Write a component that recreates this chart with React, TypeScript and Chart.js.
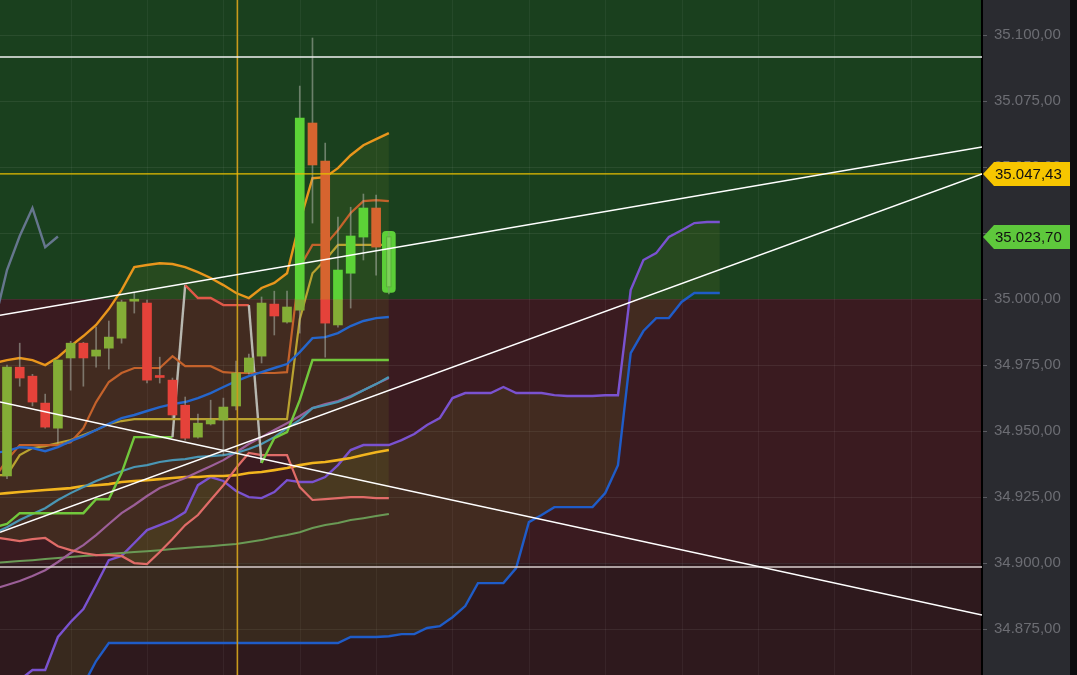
import React, { useEffect, useRef } from 'react';
import { Chart, registerables } from 'chart.js';

Chart.register(...registerables);

// ---------- axis ranges ----------
const X_RANGE = [-0.55, 76.6];
const Y_RANGE = [34857.6, 35113.3];
const Y_TICK_STEP = 25;
const GRID_X = [5, 11, 17, 23, 29, 35, 41, 47, 53, 59, 65, 71];

// ---------- zones ----------
const ZONE_LEVELS = [35000, 34900];
const ZONE_COLORS = ['#1a401e', '#3a1b20', '#2e191d'];

// ---------- candles (index 0..30) ----------
const opens = [34933.0, 34974.2, 34970.8, 34960.6, 34951.1, 34977.7, 34983.3, 34978.4, 34981.4, 34985.2, 34999.2, 34998.5, 34970.8, 34969.3, 34959.8, 34947.7, 34952.7, 34954.2, 34959.5, 34972.3, 34978.4, 34998.1, 34991.3, 34995.8, 35066.7, 35052.3, 34990.2, 35009.8, 35023.5, 35034.5, 35004.5];
const highs = [34975.0, 34983.3, 34971.5, 34964.0, 34976.9, 34984.0, 34983.6, 34989.4, 34991.7, 34999.6, 35002.3, 34999.6, 34978.0, 34970.1, 34962.9, 34956.4, 34961.7, 34962.5, 34976.5, 34979.2, 35000.8, 35003.0, 35003.0, 35080.7, 35098.9, 35059.1, 35031.1, 35034.8, 35039.8, 35039.4, 35025.5];
const lows = [34932.0, 34967.0, 34959.5, 34951.1, 34945.5, 34965.5, 34967.0, 34974.2, 34973.5, 34983.3, 34994.7, 34968.2, 34968.2, 34954.9, 34946.6, 34947.3, 34952.3, 34940.9, 34958.0, 34971.6, 34975.8, 34986.4, 34990.9, 34987.1, 35028.8, 34978.0, 34989.4, 34996.6, 35014.8, 35009.1, 35002.0];
const closes = [34974.2, 34970.1, 34961.0, 34951.5, 34976.9, 34983.3, 34977.7, 34980.7, 34985.6, 34998.9, 34999.6, 34969.3, 34970.3, 34956.1, 34947.3, 34953.0, 34954.2, 34959.1, 34972.0, 34977.7, 34998.5, 34993.6, 34997.0, 35068.6, 35050.8, 34990.9, 35011.0, 35023.9, 35034.5, 35019.7, 35023.7];

// ---------- indicator series (index -1..30) ----------
const SERIES_START = -1;
const bbUpper = [34975.8, 34976.9, 34977.7, 34976.9, 34975.0, 34978.0, 34982.2, 34986.0, 34990.2, 34996.2, 35003.4, 35012.1, 35012.9, 35013.6, 35013.3, 35012.1, 35010.2, 35008.0, 35005.3, 35002.3, 35000.4, 35004.2, 35006.1, 35009.8, 35029.2, 35045.8, 35046.2, 35049.6, 35054.5, 35058.3, 35060.6, 35062.9];
const bbMiddle = [34941.7, 34942.4, 34943.9, 34943.6, 34942.4, 34943.9, 34946.2, 34948.1, 34950.4, 34952.7, 34954.9, 34956.1, 34957.6, 34959.1, 34960.2, 34961.0, 34962.5, 34964.4, 34966.7, 34968.9, 34970.8, 34972.3, 34973.9, 34975.4, 34979.9, 34985.2, 34985.6, 34987.1, 34989.8, 34991.7, 34992.8, 34993.2];
const bbLower = [34909.8, 34909.1, 34908.3, 34909.1, 34909.5, 34906.4, 34904.9, 34903.8, 34903.0, 34903.0, 34902.7, 34900.0, 34899.6, 34904.2, 34909.1, 34914.4, 34918.2, 34923.9, 34929.5, 34936.0, 34941.7, 34940.9, 34940.9, 34940.9, 34928.8, 34923.9, 34924.2, 34924.6, 34925.0, 34925.0, 34924.6, 34924.6];
const kijun = [34932.2, 34939.0, 34944.7, 34944.7, 34944.7, 34944.7, 34945.8, 34951.1, 34961.0, 34968.6, 34972.0, 34973.9, 34973.9, 34973.9, 34978.4, 34974.6, 34974.6, 34974.6, 34972.3, 34972.0, 34972.0, 34972.0, 34972.0, 34972.3, 35012.1, 35020.5, 35020.5, 35026.1, 35032.6, 35037.1, 35037.5, 35037.1];
const tenkan = [34933.3, 34933.3, 34940.9, 34943.6, 34944.3, 34945.5, 34946.6, 34948.5, 34950.4, 34952.7, 34953.8, 34954.5, 34954.5, 34954.5, 34954.5, 34954.5, 34954.5, 34954.5, 34954.5, 34954.5, 34954.5, 34954.5, 34954.5, 34954.5, 34992.4, 35009.8, 35014.8, 35020.5, 35020.5, 35020.5, 35020.5, 35020.5];
const superTrend = [34913.6, 34914.8, 34918.9, 34918.9, 34918.9, 34918.9, 34918.9, 34918.9, 34924.2, 34924.2, 34934.1, 34947.7, 34947.7, 34947.7, 34947.7, 35005.3, 35000.4, 35000.4, 34997.7, 34997.7, 34997.7, 34937.9, 34947.3, 34949.6, 34961.7, 34976.9, 34976.9, 34976.9, 34976.9, 34976.9, 34976.9, 34976.9];
const superTrendDir = [1, 1, 1, 1, 1, 1, 1, 1, 1, 1, 1, 1, 1, 1, 1, -1, -1, -1, -1, -1, -1, 1, 1, 1, 1, 1, 1, 1, 1, 1, 1, 1];
const maCyan = [34911.4, 34913.6, 34916.3, 34918.6, 34920.8, 34923.9, 34926.5, 34928.8, 34931.1, 34933.0, 34934.8, 34936.4, 34937.1, 34938.3, 34939.0, 34939.4, 34940.2, 34940.5, 34940.9, 34941.7, 34943.2, 34945.1, 34947.7, 34951.1, 34954.2, 34958.7, 34959.8, 34961.0, 34962.9, 34965.5, 34967.8, 34970.5];
const maMauve = [34890.2, 34891.7, 34893.2, 34895.1, 34897.3, 34900.4, 34903.8, 34906.8, 34910.6, 34914.8, 34918.9, 34922.0, 34925.4, 34928.4, 34930.3, 34932.2, 34934.5, 34936.7, 34939.0, 34942.0, 34945.1, 34947.7, 34950.4, 34953.0, 34955.7, 34958.7, 34960.2, 34961.4, 34963.3, 34965.5, 34967.8, 34970.1];
const maYellow = [34926.1, 34926.5, 34926.9, 34927.3, 34927.7, 34928.0, 34928.4, 34929.2, 34929.5, 34929.9, 34930.7, 34931.1, 34931.4, 34931.8, 34932.2, 34932.6, 34932.6, 34933.0, 34933.0, 34933.3, 34934.1, 34934.5, 34935.2, 34936.0, 34937.1, 34937.9, 34938.3, 34939.0, 34939.8, 34940.9, 34942.0, 34942.8];
const maSage = [34900.0, 34900.4, 34900.8, 34901.1, 34901.5, 34901.9, 34902.3, 34902.7, 34903.0, 34903.4, 34903.8, 34904.2, 34904.5, 34904.9, 34905.3, 34905.7, 34906.1, 34906.4, 34906.8, 34907.2, 34908.0, 34908.7, 34909.8, 34910.6, 34911.7, 34913.3, 34914.4, 34915.2, 34916.3, 34917.0, 34917.8, 34918.6];

// ---------- ichimoku cloud (index -1..56) ----------
const spanA = [34840.5, 34848.1, 34855.7, 34859.5, 34859.5, 34872.0, 34877.7, 34882.6, 34891.7, 34901.1, 34902.7, 34907.6, 34912.5, 34914.4, 34916.3, 34919.3, 34929.5, 34932.6, 34931.1, 34927.3, 34925.0, 34924.6, 34926.9, 34931.4, 34930.7, 34930.7, 34932.6, 34937.1, 34942.8, 34944.7, 34944.7, 34944.7, 34946.6, 34948.9, 34952.3, 34954.9, 34962.5, 34964.4, 34964.4, 34964.4, 34966.7, 34964.4, 34964.4, 34964.4, 34963.6, 34963.3, 34963.3, 34963.3, 34963.6, 34963.6, 35003.4, 35014.8, 35017.4, 35023.5, 35026.1, 35028.8, 35029.2, 35029.2];
const spanB = [34836.7, 34840.5, 34842.4, 34844.3, 34846.2, 34848.1, 34850.0, 34853.8, 34862.9, 34869.7, 34869.7, 34869.7, 34869.7, 34869.7, 34869.7, 34869.7, 34869.7, 34869.7, 34869.7, 34869.7, 34869.7, 34869.7, 34869.7, 34869.7, 34869.7, 34869.7, 34869.7, 34869.7, 34872.0, 34872.0, 34872.0, 34872.3, 34873.1, 34873.1, 34875.4, 34876.1, 34879.5, 34883.7, 34892.4, 34892.4, 34892.4, 34898.1, 34915.5, 34918.2, 34921.2, 34921.2, 34921.2, 34921.2, 34926.5, 34937.1, 34979.5, 34987.9, 34992.8, 34992.8, 34998.9, 35002.3, 35002.3, 35002.3];
const CHIKOU_SHIFT = 26;

// ---------- drawn lines ----------
const trendA = [34993.9, 35057.6];
const trendB = [34911.7, 35047.4];
const trendC = [34961.0, 34880.3];
const hLinesWhite = [35091.7];
const hLine34900 = [34898.5];
const hLineYellow = [35047.43];
const crosshairX = [18.1];

// ---------- price tags ----------
const tagValues = [35047.43, 35023.7];
const tagLabels = ['35.047,43', '35.023,70'];
const tagColors = ['#f7c600', '#5ec83c'];

const FONT = "'Liberation Sans', Arial, sans-serif";

function fmt(v: number): string {
  const fixed = Math.abs(v).toFixed(2);
  const [intPart, dec] = fixed.split('.');
  const withDots = intPart.replace(/\B(?=(\d{3})+(?!\d))/g, '.');
  return (v < 0 ? '-' : '') + withDots + ',' + dec;
}

const pts = (arr: number[], start = SERIES_START) => arr.map((v, i) => ({ x: i + start, y: v }));

const bgPlugin = {
  id: 'bgZones',
  beforeDraw(chart: any) {
    const { ctx, chartArea: a, scales } = chart;
    const y = scales.y;
    const x = scales.x;
    ctx.save();
    ctx.fillStyle = '#2a2b30';
    ctx.fillRect(a.right, 0, chart.width - a.right, chart.height);
    ctx.fillStyle = '#0c0c0e';
    ctx.fillRect(chart.width - 7, 0, 7, chart.height);
    const y1 = y.getPixelForValue(ZONE_LEVELS[0]);
    const y2 = y.getPixelForValue(ZONE_LEVELS[1]);
    ctx.fillStyle = ZONE_COLORS[0];
    ctx.fillRect(a.left, a.top, a.right - a.left, y1 - a.top);
    ctx.fillStyle = ZONE_COLORS[1];
    ctx.fillRect(a.left, y1, a.right - a.left, y2 - y1);
    ctx.fillStyle = ZONE_COLORS[2];
    ctx.fillRect(a.left, y2, a.right - a.left, a.bottom - y2);
    ctx.strokeStyle = 'rgba(255,255,255,0.05)';
    ctx.lineWidth = 1;
    GRID_X.forEach((gx) => {
      const px = Math.round(x.getPixelForValue(gx)) + 0.5;
      if (px < a.left || px > a.right) return;
      ctx.beginPath();
      ctx.moveTo(px, a.top);
      ctx.lineTo(px, a.bottom);
      ctx.stroke();
    });
    ctx.restore();
  },
};

const tagPlugin = {
  id: 'priceTags',
  afterDraw(chart: any) {
    const { ctx, chartArea: a, scales } = chart;
    const y = scales.y;
    const right = chart.width - 7;
    ctx.save();
    tagValues.forEach((v, i) => {
      const py = Math.round(y.getPixelForValue(v));
      const h = 24;
      const left = a.right + 1;
      ctx.beginPath();
      ctx.moveTo(left, py);
      ctx.lineTo(left + 11, py - h / 2);
      ctx.lineTo(right, py - h / 2);
      ctx.lineTo(right, py + h / 2);
      ctx.lineTo(left + 11, py + h / 2);
      ctx.closePath();
      ctx.fillStyle = tagColors[i];
      ctx.fill();
      ctx.fillStyle = '#111111';
      ctx.font = `15px ${FONT}`;
      ctx.textBaseline = 'middle';
      ctx.textAlign = 'left';
      ctx.fillText(tagLabels[i], left + 12, py + 1);
    });
    ctx.restore();
  },
};

export default function App() {
  const ref = useRef<HTMLCanvasElement | null>(null);

  useEffect(() => {
    if (!ref.current) return;
    const last = closes.length - 1;
    const LVL = ZONE_LEVELS[0];

    const wickData = highs.slice(0, last).map((h, i) => ({ x: i, y: [lows[i], h] }));
    const upperBodies: any[] = [];
    const lowerBodies: any[] = [];
    for (let i = 0; i < last; i++) {
      const lo = Math.min(opens[i], closes[i]);
      const hi = Math.max(opens[i], closes[i]);
      const up = closes[i] >= opens[i];
      if (hi > LVL) upperBodies.push({ x: i, y: [Math.max(lo, LVL), hi], up });
      if (lo < LVL) lowerBodies.push({ x: i, y: [lo, Math.min(hi, LVL)], up });
    }
    const curBody = [{ x: last, y: [opens[last], closes[last]] }];
    const curWick = [{ x: last, y: [lows[last], highs[last]] }];
    const curGlow = [{ x: last, y: [opens[last] - 2, closes[last] + 2] }];

    const chikou = closes
      .map((c, i) => ({ x: i - CHIKOU_SHIFT, y: c }))
      .filter((p) => p.x >= -1);

    const xMin = X_RANGE[0];
    const xMax = X_RANGE[1];
    const yMin = Y_RANGE[0];
    const yMax = Y_RANGE[1];
    const hseg = (v: number) => [{ x: xMin, y: v }, { x: xMax, y: v }];
    const tseg = (arr: number[]) => [{ x: xMin, y: arr[0] }, { x: xMax, y: arr[1] }];

    const line = (data: any[], color: string, order: number, width = 2.2, extra: any = {}) => ({
      type: 'line',
      data,
      borderColor: color,
      borderWidth: width,
      pointRadius: 0,
      tension: 0,
      fill: false,
      order,
      ...extra,
    });

    const datasets: any[] = [];
    // fills (index 0..3)
    datasets.push(line(pts(bbUpper), 'rgba(0,0,0,0)', 200, 0));
    datasets.push(line(pts(bbLower), 'rgba(0,0,0,0)', 199, 0, { fill: { target: 0 }, backgroundColor: 'rgba(110,130,40,0.16)' }));
    datasets.push(line(pts(spanA), 'rgba(0,0,0,0)', 198, 0));
    datasets.push(line(pts(spanB), 'rgba(0,0,0,0)', 197, 0, { fill: { target: 2 }, backgroundColor: 'rgba(110,130,40,0.16)' }));

    // indicator lines
    datasets.push(line(pts(spanB), '#1f5cc8', 60, 2.4));
    datasets.push(line(pts(spanA), '#7a52d0', 59, 2.4));
    datasets.push(line(pts(maSage), '#6a9a55', 58, 2));
    datasets.push(line(pts(maYellow), '#f2b51e', 57, 2.6));
    datasets.push(line(pts(maMauve), '#9c5f98', 56, 2.2));
    datasets.push(line(pts(maCyan), '#4a96b4', 55, 2.2));
    datasets.push(line(pts(bbLower), '#e06c68', 54, 2.2));
    datasets.push(line(pts(superTrend), '#72c83c', 53, 2.4, {
      segment: {
        borderColor: (c: any) => {
          const a = superTrendDir[c.p0DataIndex];
          const b = superTrendDir[c.p1DataIndex];
          if (a !== b) return '#b8b8b0';
          return a === 1 ? '#72c83c' : '#e05848';
        },
      },
    }));
    datasets.push(line(pts(tenkan), '#b9a230', 52, 2.2));
    datasets.push(line(pts(kijun), '#c4622b', 51, 2.2));
    datasets.push(line(pts(bbMiddle), '#2566cc', 50, 2.4));
    datasets.push(line(pts(bbUpper), '#e9961c', 49, 2.4));
    datasets.push(line(chikou, '#66768e', 48, 2.4));

    // candles
    datasets.push({ type: 'bar', data: wickData, backgroundColor: 'rgba(175,180,170,0.55)', barThickness: 1, grouped: false, order: 12 });
    datasets.push({
      type: 'bar', data: lowerBodies, grouped: false, barThickness: 9, minBarLength: 2, order: 11,
      backgroundColor: (c: any) => (c.raw && c.raw.up ? '#84ad36' : '#e5423a'),
    });
    datasets.push({
      type: 'bar', data: upperBodies, grouped: false, barThickness: 9, minBarLength: 2, order: 10,
      backgroundColor: (c: any) => (c.raw && c.raw.up ? '#5cd237' : '#d6642f'),
    });
    datasets.push({ type: 'bar', data: curGlow, backgroundColor: '#5ccf38', borderRadius: 4, borderSkipped: false, barThickness: 13, grouped: false, order: 9 });
    datasets.push({ type: 'bar', data: curWick, backgroundColor: 'rgba(120,170,100,0.8)', barThickness: 1, grouped: false, order: 8 });
    datasets.push({ type: 'bar', data: curBody, backgroundColor: 'rgba(140,225,100,0.55)', borderColor: 'rgba(90,170,60,0.9)', borderWidth: 1, borderSkipped: false, barThickness: 5, grouped: false, order: 7 });

    // drawn lines on top
    datasets.push(line([{ x: crosshairX[0], y: yMin }, { x: crosshairX[0], y: yMax }], '#c99a1c', -1, 1.6));
    datasets.push(line(hseg(hLineYellow[0]), '#e8be00', -2, 1.3));
    datasets.push(line(hseg(hLinesWhite[0]), '#f2f2f2', -3, 1.5));
    datasets.push(line(hseg(hLine34900[0]), '#d8cccc', -4, 1.5));
    datasets.push(line(tseg(trendA), '#ffffff', -5, 1.5));
    datasets.push(line(tseg(trendB), '#ffffff', -6, 1.5));
    datasets.push(line(tseg(trendC), '#ffffff', -7, 1.5));

    const chart = new Chart(ref.current, {
      type: 'line',
      data: { datasets },
      plugins: [bgPlugin, tagPlugin],
      options: {
        animation: false,
        responsive: false,
        maintainAspectRatio: false,
        layout: { padding: 0 },
        plugins: { legend: { display: false }, tooltip: { enabled: false } },
        events: [],
        scales: {
          x: {
            type: 'linear',
            display: false,
            min: xMin,
            max: xMax,
            offset: false,
          },
          y: {
            type: 'linear',
            position: 'right',
            min: yMin,
            max: yMax,
            afterFit: (s: any) => {
              s.width = 95;
              s.paddingTop = 0;
              s.paddingBottom = 0;
            },
            ticks: {
              stepSize: Y_TICK_STEP,
              includeBounds: false,
              color: '#6c6d73',
              font: { family: FONT, size: 15 },
              padding: 7,
              callback: (v: any) => fmt(Number(v)),
            },
            grid: { color: 'rgba(255,255,255,0.07)', tickColor: '#5a5b61', tickLength: 5, lineWidth: 1 },
            border: { display: true, color: '#000000', width: 2 },
          },
        },
      } as any,
    } as any);
    return () => chart.destroy();
  }, []);

  return (
    <div style={{ position: 'fixed', left: 0, top: 0, width: 1077, height: 675, background: '#2a2b30' }}>
      <canvas ref={ref} width={1077} height={675} style={{ display: 'block', width: 1077, height: 675 }} />
    </div>
  );
}
